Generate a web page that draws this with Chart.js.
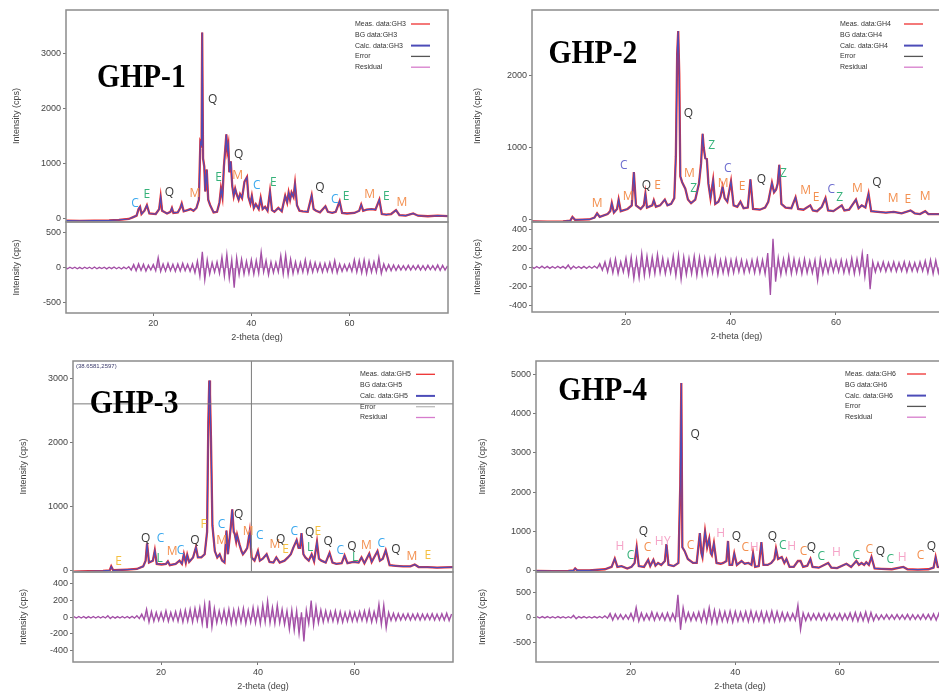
<!DOCTYPE html>
<html>
<head>
<meta charset="utf-8">
<script src="https://cdn.jsdelivr.net/npm/chart.js@4.4.1/dist/chart.umd.min.js"></script>
<style>
html, body { margin: 0; padding: 0; background: #fff; overflow: hidden; width: 939px; height: 694px; }
canvas { position: absolute; }
</style>
</head>
<body>
<script>
// 2-theta grid and intensities (cps)
const theta1 = [2.2,5,8,11,13,15,15.8,16.6,17.0,17.3,17.6,18.2,18.7,19.2,20.5,21.2,21.5,21.8,22.8,23.5,23.8,24.1,25.0,25.5,25.8,26.2,27.0,27.6,28.2,28.8,29.3,29.6,29.85,29.97,30.15,30.4,30.6,30.9,31.2,31.6,32.3,33.0,33.5,33.8,34.1,34.4,34.7,34.9,35.1,35.3,35.5,35.8,36.1,36.4,36.7,37.0,37.4,37.7,38.1,38.6,39.1,39.4,39.8,40.1,40.5,40.9,41.5,41.9,42.3,42.8,43.3,43.8,44.2,44.7,45.5,46.2,46.9,47.3,47.6,47.9,48.2,48.6,48.9,49.3,49.8,50.5,51.5,52.3,52.7,53.2,54.0,55.1,55.6,56.5,57.2,58.0,58.5,59.5,61.0,62.0,62.4,62.8,63.5,64.5,65.3,66.1,66.6,67.5,68.5,69.5,70.2,71.5,73.0,74.0,76.0,78.0,80.1];
const int1 = [-30,-35,-30,-25,-15,0,30,60,180,220,90,150,250,100,90,180,400,150,100,130,200,110,120,200,280,140,160,180,150,200,350,1400,1350,3390,1100,950,500,900,350,250,120,130,300,550,400,950,1300,1540,1250,1350,850,1050,600,420,550,450,350,450,380,680,760,400,280,420,200,270,180,380,180,220,150,500,160,130,200,140,420,300,480,350,480,400,640,250,150,140,130,430,180,150,120,230,130,110,130,320,110,100,110,150,260,150,170,180,170,350,90,80,90,160,70,60,100,60,50,60,50];

const theta2 = [2.1,5,8,9.4,9.8,10.3,13,14.0,14.5,15.0,16.5,17.0,17.3,17.7,18.3,18.6,19.0,20.3,21.1,21.5,21.9,22.8,23.4,23.7,24.0,25.0,25.3,25.7,26.5,27.4,27.9,28.6,29.2,29.5,29.75,29.95,30.15,30.35,30.7,31.3,31.8,32.4,33.2,33.9,34.3,34.6,34.8,35.1,35.4,35.7,36.1,36.6,37.0,37.6,38.0,38.4,38.8,39.3,40.0,40.5,41.2,41.8,42.4,43.2,43.7,44.2,45.5,46.5,47.1,47.5,47.8,48.2,48.6,48.9,49.2,49.6,50.4,51.5,52.3,52.8,53.8,55.1,55.6,56.4,57.3,58.0,58.5,59.5,61.1,61.6,62.5,63.8,64.3,64.9,65.6,66.2,66.7,68.0,69.5,71.0,72.5,74.2,75.0,76.0,77.0,77.6,79.0,80.2];
const int2 = [-20,-25,-20,-10,40,0,5,30,90,40,80,120,230,100,150,280,120,150,200,660,200,150,200,360,170,200,270,180,200,280,200,220,300,880,2290,2610,2000,600,520,430,280,230,280,500,780,1190,1000,850,840,500,300,550,220,250,320,460,300,250,530,200,180,250,160,170,560,150,140,170,250,400,510,380,420,500,760,220,170,160,310,150,140,200,130,120,180,300,130,120,200,130,140,280,160,200,170,360,120,110,100,110,90,130,90,80,120,80,80,80];

const theta3 = [1.8,5,8,9.4,9.7,10.1,13,15,16.3,16.8,17.1,17.5,18.3,18.7,19.1,20.1,21.0,21.4,21.8,23.0,23.8,24.3,24.7,25.1,25.4,25.8,26.6,27.2,27.6,28.3,29.0,29.5,29.75,29.95,30.1,30.3,30.6,31.1,31.6,32.1,32.6,33.1,33.5,33.8,34.4,34.7,35.0,35.2,35.5,35.7,36.2,36.6,36.9,37.4,37.8,38.3,38.7,39.3,40.0,40.4,41.0,41.8,42.4,43.2,43.8,44.5,45.5,46.2,46.8,47.3,48.0,48.4,48.7,49.0,49.4,49.8,50.5,51.1,51.6,52.2,52.6,53.1,54.0,54.8,55.4,56.2,57.3,57.9,58.5,59.7,60.8,61.4,62.0,63.0,63.5,64.7,65.2,65.8,66.4,67.2,68.5,70.0,71.5,72.4,73.2,75.0,77.0,80.3];
const int3 = [-20,-15,-10,0,60,0,10,20,60,150,420,120,150,310,100,90,100,140,80,100,150,100,250,120,240,130,200,360,200,200,250,600,2290,2960,2750,2060,700,300,200,250,150,120,620,250,680,950,600,570,450,550,400,300,250,300,350,600,200,150,300,150,180,250,130,120,200,120,150,200,250,350,470,350,350,580,250,200,150,250,140,440,180,150,120,270,120,100,110,230,110,130,120,200,110,260,130,300,150,180,310,80,70,60,60,90,50,50,40,50];

const theta4 = [1.8,5,8,9.0,9.3,9.7,12,15,16.3,16.9,17.4,18.2,19.3,20.1,20.7,21.1,21.5,22.5,23.3,23.7,24.3,24.7,25.2,25.8,26.5,26.8,27.2,28.2,29.1,29.45,29.65,29.85,30.3,30.9,31.9,32.6,33.2,33.5,33.7,34.2,34.6,35.0,35.3,35.5,35.9,36.4,37.2,37.7,38.3,38.6,38.9,39.4,39.8,40.3,41.2,41.8,42.5,43.1,43.4,43.8,44.5,45.0,45.4,46.2,46.9,47.5,47.8,48.2,48.9,49.4,49.8,50.4,51.2,52.0,52.5,53.0,53.8,54.4,54.8,56.0,57.8,58.4,59.5,61.3,62.2,63.2,63.7,64.2,64.7,65.1,65.6,66.1,66.7,68.0,70.0,72.2,73.0,75.0,77.0,78.0,78.4,78.8,80.2];
const int4 = [0,-10,0,10,60,10,10,40,100,310,100,120,60,100,200,600,120,100,280,120,280,130,200,150,250,680,150,120,200,2180,4780,600,500,300,200,200,960,450,350,1000,600,820,450,400,700,200,180,200,250,760,150,150,440,150,250,180,200,150,440,100,120,730,150,150,200,300,560,300,350,200,300,100,100,250,250,100,130,300,100,80,200,80,70,180,100,250,150,200,150,220,150,350,60,50,40,100,40,30,40,80,350,100,80];

// residuals, one value every 0.5 deg from 2 to 80 deg
const res1 = [8,-10,12,-8,10,-12,9,-11,12,-9,10,-10,13,-12,9,-8,11,-13,10,-9,14,-12,10,-15,12,-10,
  20,-30,50,-40,60,-35,55,-45,40,-30,
  50,-40,150,-50,60,-45,70,-40,55,-50,
  60,-45,70,-40,55,-50,60,-70,100,-120,
  230,-170,120,-90,80,-60,90,-80,160,-120,
  200,-150,120,-280,150,-100,130,-90,100,-80,
  120,-90,110,-80,230,-60,110,-100,90,-70,
  80,-60,180,-90,190,-100,130,-80,90,-70,
  80,-60,120,-70,90,-60,80,-50,70,-60,
  70,-50,80,-60,110,-70,60,-50,50,-40,
  60,-50,120,-60,110,-70,120,-80,100,-60,
  90,-60,150,-80,60,-40,50,-40,45,-35,
  40,-30,35,-30,40,-30,35,-25,40,-30,
  35,-30,40,-25,35,-30,45,-35,40,-30,
  30];
const res2 = [10,-12,8,-10,12,-9,10,-11,9,-10,12,-8,10,-12,25,-20,12,-10,9,-11,10,-12,11,-9,13,-10,
  40,-30,60,-50,80,-60,90,-70,60,-50,
  100,-80,110,-120,90,-110,150,-90,120,-80,
  110,-70,140,-60,100,-70,80,-60,120,-90,
  130,-130,110,-80,100,-70,120,-90,110,-80,
  100,-70,90,-60,110,-80,80,-60,90,-70,
  80,-60,90,-50,80,-60,70,-50,80,-60,
  90,-60,80,-70,150,-290,300,-150,100,-80,
  90,-60,120,-70,90,-60,80,-70,90,-60,
  70,-60,80,-140,90,-70,70,-60,80,-50,
  70,-50,80,-60,70,-60,100,-70,90,-60,
  150,-100,140,-230,60,-50,50,-40,60,-45,
  50,-40,60,-45,50,-40,60,-50,55,-40,
  50,-45,60,-40,70,-60,80,-70,75,-60,
  60];
const res3 = [8,-9,10,-8,9,-10,8,-9,10,-8,9,-9,10,-8,20,-15,9,-10,8,-9,10,-8,9,-10,12,-10,
  20,-15,40,-30,100,-60,70,-50,60,-40,
  60,-40,80,-50,60,-40,70,-50,80,-60,
  90,-50,100,-60,110,-40,120,-80,160,-130,
  200,-120,110,-70,80,-60,90,-70,100,-80,
  90,-70,100,-60,110,-80,90,-60,120,-70,
  110,-80,150,-60,200,-70,120,-80,150,-70,
  100,-90,80,-150,90,-160,80,-200,60,-290,
  90,-80,200,-100,130,-70,90,-60,80,-50,
  70,-50,80,-60,70,-60,60,-50,70,-50,
  60,-50,70,-40,80,-50,90,-60,70,-50,
  160,-90,150,-130,60,-40,50,-40,45,-35,
  40,-30,45,-35,40,-30,45,-35,40,-30,
  40,-30,45,-35,40,-35,45,-35,50,-40,
  40];
const res4 = [12,-15,14,-12,15,-13,12,-14,15,-12,13,-15,12,-14,40,-30,14,-12,15,-13,12,-15,14,-12,18,-15,
  30,-20,80,-60,70,-40,60,-40,50,-40,
  80,-60,200,-80,90,-60,70,-50,110,-60,
  90,-50,80,-60,90,-70,80,-60,450,-250,
  200,-80,100,-70,90,-60,110,-90,140,-100,
  200,-110,150,-120,130,-80,120,-90,130,-100,
  120,-80,110,-70,120,-90,130,-80,110,-70,
  120,-100,110,-80,130,-90,120,-80,100,-70,
  90,-60,80,-60,250,-250,90,-70,80,-60,
  70,-50,80,-60,70,-60,80,-50,70,-50,
  80,-60,70,-50,90,-70,100,-80,90,-70,
  110,-90,100,-70,60,-50,50,-40,60,-40,
  50,-40,60,-40,50,-40,60,-50,55,-40,
  50,-45,60,-40,60,-50,70,-60,80,-70,
  60];
const resTheta = Array.from({ length: res1.length }, (_, i) => 2 + i * 0.5);

// phase labels (letter, 2-theta, intensity)
const phase1 = ['C','E','Q','M','Q','E','Q','M','C','E','Q','C','E','M','E','M'];
const phaseTheta1 = [16.3,18.7,23.3,28.5,32.1,33.3,37.4,37.2,41.1,44.5,54.0,57.0,59.3,64.1,67.5,70.7];
const phaseInt1 = [285,436,478,467,2176,751,1176,787,600,667,569,345,405,436,405,296];

const phase2 = ['M','C','M','Q','E','Q','M','Z','Z','M','C','E','Q','Z','M','E','C','Z','M','Q','M','E','M'];
const phaseTheta2 = [14.5,19.6,20.4,23.9,26.0,31.9,32.1,32.9,36.3,38.5,39.4,42.1,45.8,50.0,54.2,56.2,59.1,60.7,64.1,67.8,70.9,73.7,77.0];
const phaseInt2 = [218,748,319,467,467,1472,643,426,1030,504,702,457,550,633,398,305,421,305,430,518,287,274,319];

const phase3 = ['E','Q','C','L','M','C','Q','F','C','M','Q','M','C','M','Q','E','C','Q','E','L','Q','C','Q','L','M','C','Q','M','E'];
const phaseTheta3 = [11.2,16.8,19.9,19.7,22.3,24.0,27.0,28.8,32.5,32.5,36.0,37.96,40.4,43.5,44.7,45.7,47.5,50.7,52.4,50.8,54.5,57.0,59.4,60.1,62.4,65.5,68.5,71.8,75.1];
const phaseInt3 = [141,495,495,183,297,312,458,714,719,458,875,598,547,401,484,323,598,583,598,355,453,312,375,198,380,417,328,208,223];

const phase4 = ['H','Cg','Q','Co','H','Y','Co','Q','H','Q','Co','H','Q','Cg','H','Co','Q','Cg','H','Cg','Co','Q','Cg','H','Co','Q'];
const phaseTheta4 = [17.9,19.9,22.4,23.2,25.4,27.0,31.4,32.3,37.2,40.2,41.9,43.6,47.1,49.1,50.8,53.1,54.6,56.5,59.4,63.2,65.7,67.8,69.7,72.0,75.5,77.6];
const phaseInt4 = [607,395,990,592,735,735,650,3474,949,862,592,592,862,650,625,480,582,352,464,378,548,497,293,337,378,607];

// tick labels
const xTicks = [20, 40, 60];
const mainTicks1 = [0, 1000, 2000, 3000];
const mainTicks2 = [0, 1000, 2000];
const mainTicks3 = [0, 1000, 2000, 3000];
const mainTicks4 = [0, 1000, 2000, 3000, 4000, 5000];
const resTicks1 = [-500, 0, 500];
const resTicks2 = [-400, -200, 0, 200, 400];
const resTicks3 = [-400, -200, 0, 200, 400];
const resTicks4 = [-500, 0, 500];

// crosshair readout in GHP-3
const cursor3 = [38.6581, 2597];

const RED = '#ee3030';
const BLUE = '#4c4cb8';
const PURPLE = '#a34fa6';
const ORANGE = '#f39050';
const GREEN = '#36b27a';
const SKY = '#3aa8ee';
const DARK = '#3a3a3a';

const colors1 = { C: SKY, E: GREEN, Q: DARK, M: ORANGE };
const colors2 = { C: '#6c6ccf', Z: GREEN, Q: DARK, M: ORANGE, E: ORANGE };
const colors3 = { C: SKY, Q: DARK, L: GREEN, M: ORANGE, E: '#f5c040', F: '#f5c040' };
const colors4 = { H: '#f5a3c7', Y: '#f5a3c7', Q: DARK, Cg: GREEN, Co: ORANGE };

Chart.defaults.animation = false;
Chart.defaults.font.family = "'Liberation Sans', Arial, sans-serif";

const decor = {
  id: 'decor',
  afterDraw(chart, args, o) {
    const { ctx, chartArea: a, scales } = chart;
    ctx.save();
    if (o.cursor) {
      const cx = scales.x.getPixelForValue(o.cursor[0]);
      const cy = scales.y.getPixelForValue(o.cursor[1]);
      ctx.strokeStyle = '#7a7a7a';
      ctx.lineWidth = 1;
      ctx.beginPath();
      ctx.moveTo(cx, a.top); ctx.lineTo(cx, a.bottom);
      ctx.moveTo(a.left, cy); ctx.lineTo(a.right, cy);
      ctx.stroke();
      ctx.fillStyle = '#3a3a6a';
      ctx.font = "6px 'Liberation Sans'";
      ctx.textAlign = 'left';
      ctx.textBaseline = 'top';
      ctx.fillText('(' + o.cursor[0] + ',' + o.cursor[1] + ')', a.left + 3, a.top + 2);
    }
    if (o.phases) {
      ctx.font = "12px 'Open Sans'";
      ctx.textAlign = 'center';
      ctx.textBaseline = 'middle';
      o.phases.keys.forEach((k, i) => {
        ctx.fillStyle = o.phases.colors[k];
        ctx.fillText(k[0], scales.x.getPixelForValue(o.phases.theta[i]), scales.y.getPixelForValue(o.phases.val[i]));
      });
    }
    if (o.name) {
      ctx.save();
      ctx.translate(a.left + o.name.dx, a.top + o.name.dy);
      ctx.scale(0.87, 1);
      ctx.font = "bold 34px 'Liberation Serif'";
      ctx.fillStyle = '#000';
      ctx.textAlign = 'left';
      ctx.textBaseline = 'alphabetic';
      ctx.fillText(o.name.text, 0, 0);
      ctx.restore();
    }
    if (o.legend) {
      const g = o.legend.tag;
      const rows = [['Meas. data:' + g, RED], ['BG data:' + g, null], ['Calc. data:' + g, BLUE], ['Error', o.legend.err], ['Residual', '#d67ccc']];
      ctx.font = "7px 'Liberation Sans'";
      ctx.textAlign = 'left';
      ctx.textBaseline = 'middle';
      rows.forEach((r, i) => {
        const y = a.top + o.legend.dy + i * 10.8;
        ctx.fillStyle = '#333';
        ctx.fillText(r[0], a.right - o.legend.dx, y);
        if (r[1]) {
          ctx.strokeStyle = r[1];
          ctx.lineWidth = i === 2 ? 2 : 1.3;
          ctx.beginPath();
          ctx.moveTo(a.right - 37, y); ctx.lineTo(a.right - 18, y);
          ctx.stroke();
        }
      });
    }
    ctx.strokeStyle = '#8c8c8c';
    ctx.lineWidth = 1.5;
    ctx.strokeRect(a.left, a.top, a.width, a.height);
    ctx.restore();
  }
};

function addChart(left, top, w, h, cfg) {
  const c = document.createElement('canvas');
  w = Math.round(w); h = Math.round(h);
  c.width = w; c.height = h;
  c.style.left = Math.round(left) + 'px';
  c.style.top = Math.round(top) + 'px';
  c.style.width = w + 'px';
  c.style.height = h + 'px';
  document.body.appendChild(c);
  cfg.options.responsive = false;
  cfg.options.devicePixelRatio = 1;
  cfg.plugins = [decor];
  return new Chart(c, cfg);
}

function toXY(xs, ys) {
  return xs.map((x, i) => ({ x: x, y: ys[i] }));
}

function yAxis(min, max, ticks, w) {
  return {
    type: 'linear', min: min, max: max,
    afterBuildTicks: s => { s.ticks = ticks.map(v => ({ value: v })); },
    afterFit: s => { s.width = w; s.paddingTop = 0; s.paddingBottom = 0; },
    ticks: { font: { size: 9 }, color: '#444', padding: 2, callback: v => String(v) },
    grid: { drawOnChartArea: false, tickLength: 3, color: '#777' },
    border: { display: false },
    title: { display: true, text: 'Intensity (cps)', font: { size: 9 }, color: '#444', padding: 0 }
  };
}

function buildPanel(p) {
  const cLeft = Math.round(p.titleX - 5.4);
  const axisW = Math.round(p.frameL) - cLeft;
  const plotW = p.frameR - p.frameL;
  const top = Math.round(p.frameT);
  const split = Math.round(p.split);
  const bottom = Math.round(p.frameB);

  addChart(cLeft, top - 2, axisW + plotW + 3, split - top + 6, {
    type: 'line',
    data: {
      datasets: [
        { label: 'Calc', data: toXY(p.theta, p.obs), borderColor: BLUE, borderWidth: 1.2, pointRadius: 0, tension: 0 },
        { label: 'Meas', data: toXY(p.theta, p.obs), borderColor: RED, borderWidth: 2.3, pointRadius: 0, tension: 0 }
      ]
    },
    options: {
      layout: { padding: { top: 2, right: 3, bottom: 4, left: 0 } },
      scales: {
        x: { type: 'linear', display: false, min: p.xMin, max: p.xMax },
        y: yAxis(p.mainMin, p.mainMax, p.mainTicks, axisW)
      },
      plugins: {
        legend: { display: false },
        tooltip: { enabled: false },
        decor: {
          phases: p.phases,
          name: p.name,
          legend: p.legend,
          cursor: p.cursor
        }
      }
    }
  });

  addChart(cLeft, split - 2, axisW + plotW + 3, bottom - split + 2 + 30, {
    type: 'line',
    data: {
      datasets: [
        { label: 'Residual', data: toXY(resTheta, p.res), borderColor: PURPLE, borderWidth: 1.3,
          backgroundColor: 'rgba(163,79,166,0.55)', fill: 'origin', pointRadius: 0, tension: 0 }
      ]
    },
    options: {
      layout: { padding: { top: 2, right: 3, bottom: 0, left: 0 } },
      scales: {
        x: {
          type: 'linear', min: p.xMin, max: p.xMax,
          afterBuildTicks: s => { s.ticks = xTicks.map(v => ({ value: v })); },
          afterFit: s => { s.height = 30; s.paddingLeft = 0; s.paddingRight = 0; },
          ticks: { font: { size: 9 }, color: '#444', padding: 2, maxRotation: 0, autoSkip: false },
          grid: { drawOnChartArea: false, tickLength: 3, color: '#777' },
          border: { display: false },
          title: { display: true, text: '2-theta (deg)', font: { size: 9 }, color: '#444', padding: 0 }
        },
        y: yAxis(p.resMin, p.resMax, p.resTicks, axisW)
      },
      plugins: { legend: { display: false }, tooltip: { enabled: false }, filler: { propagate: false }, decor: {} }
    }
  });
}

buildPanel({
  frameL: 66, frameR: 448, frameT: 10, split: 222, frameB: 313, titleX: 16,
  xMin: 2.2, xMax: 80.1, mainMin: -55, mainMax: 3800, resMin: -643, resMax: 657,
  theta: theta1, obs: int1, mainTicks: mainTicks1, res: res1, resTicks: resTicks1,
  phases: { keys: phase1, theta: phaseTheta1, val: phaseInt1, colors: colors1 },
  name: { text: 'GHP-1', dx: 31, dy: 77 },
  legend: { tag: 'GH3', dx: 93, dy: 14, err: '#555' }
});
buildPanel({
  frameL: 531.7, frameR: 941, frameT: 10, split: 222, frameB: 312, titleX: 477,
  xMin: 2.1, xMax: 80, mainMin: -30, mainMax: 2900, resMin: -470, resMax: 477,
  theta: theta2, obs: int2, mainTicks: mainTicks2, res: res2, resTicks: resTicks2,
  phases: { keys: phase2, theta: phaseTheta2, val: phaseInt2, colors: colors2 },
  name: { text: 'GHP-2', dx: 16.6, dy: 52.7 },
  legend: { tag: 'GH4', dx: 101, dy: 14, err: '#555' }
});
buildPanel({
  frameL: 73.3, frameR: 453.3, frameT: 361, split: 571.7, frameB: 662.3, titleX: 23,
  xMin: 1.8, xMax: 80.3, mainMin: -27, mainMax: 3266, resMin: -536, resMax: 543,
  theta: theta3, obs: int3, mainTicks: mainTicks3, res: res3, resTicks: resTicks3,
  phases: { keys: phase3, theta: phaseTheta3, val: phaseInt3, colors: colors3 },
  name: { text: 'GHP-3', dx: 16.7, dy: 51.7 },
  legend: { tag: 'GH5', dx: 93, dy: 13.3, err: '#bbb' },
  cursor: cursor3
});
buildPanel({
  frameL: 536, frameR: 944, frameT: 361, split: 571.7, frameB: 662.3, titleX: 482,
  xMin: 1.8, xMax: 80, mainMin: -30, mainMax: 5340, resMin: -893, resMax: 905,
  theta: theta4, obs: int4, mainTicks: mainTicks4, res: res4, resTicks: resTicks4,
  phases: { keys: phase4, theta: phaseTheta4, val: phaseInt4, colors: colors4 },
  name: { text: 'GHP-4', dx: 22.3, dy: 39 },
  legend: { tag: 'GH6', dx: 99, dy: 13, err: '#555' }
});
</script>
</body>
</html>
